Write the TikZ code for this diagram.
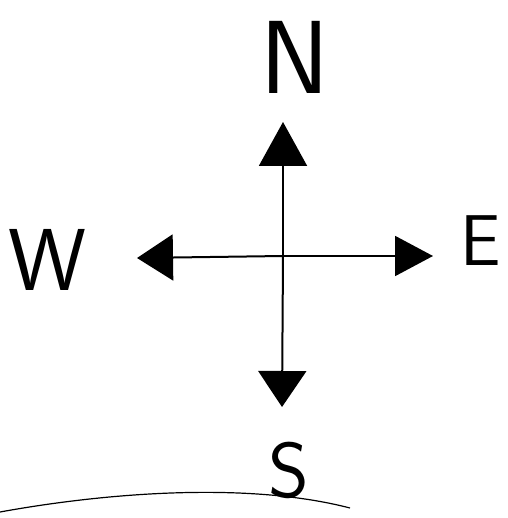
\documentclass[tikz,border=0pt]{standalone}
\usetikzlibrary{arrows.meta}

\begin{document}
\begin{tikzpicture}[x=1pt,y=-1pt,line width=2pt,
  tip/.style={-{Triangle[length=44pt,width=48pt]}},
  dir/.style={inner sep=0pt,font=\sffamily\fontsize{#1}{#1}\selectfont}]
  \useasboundingbox (0,0) rectangle (507,518);
  \coordinate (c) at (283,256);
  \coordinate (n) at (283,122); \coordinate (s) at (282,407);
  \coordinate (w) at (137,258); \coordinate (e) at (433,256);
  \draw[tip] (c) -- (n);
  \draw[-{Triangle[length=36pt,width=48pt]}] (c) -- (s);
  \draw[-{Triangle[length=36pt,width=46pt]}] (c) -- (w);
  \draw[-{Triangle[length=38pt,width=40pt]}] (c) -- (e);
  \node[dir=104] (N) at (295,57) {N};
  \node[dir=72] (E) at (481,241) {E};
  \node[dir=88] (W) at (47,260) {W};
  \node[dir=78,anchor=base] (S) at (289,497) {S};
  % ground line
  \draw[line width=1.2pt] (0,512) .. controls (110,492) and (250,482) .. (350,508);
\end{tikzpicture}
\end{document}
